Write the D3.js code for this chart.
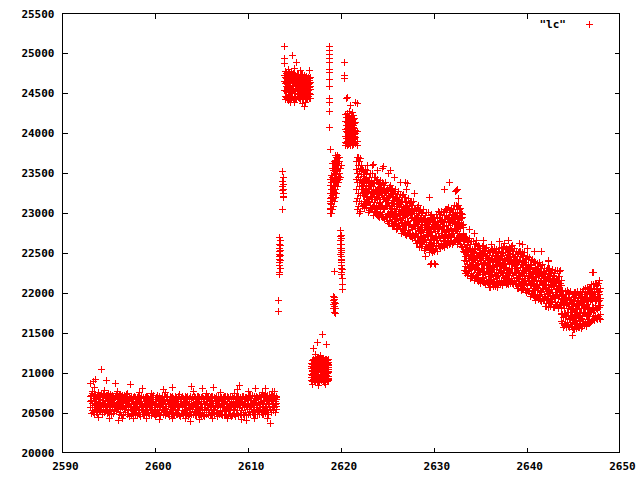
<!DOCTYPE html>
<html><head><meta charset="utf-8">
<script src="https://cdn.jsdelivr.net/npm/d3@7"></script>
<style>body{margin:0;background:#fff}svg{display:block}</style>
</head><body><svg id="c" width="640" height="480"></svg>
<script>
const xTicks = [2590, 2600, 2610, 2620, 2630, 2640, 2650];
const yTicks = [20000, 20500, 21000, 21500, 22000, 22500, 23000, 23500, 24000, 24500, 25000, 25500];
const seriesName = '"lc"';

// rows: [time, flux, flux, ...]
const baseline = [
[2593.0,20700,20560,20640],[2593.1,20490,20650,20720],[2593.2,20610,20740,20530],[2593.3,20680,20890,20500],
[2593.4,20560,20700,20620],[2593.5,20730,20480,20590],[2593.6,20640,20540,20710],[2593.7,20500,20680,20600],
[2593.8,20720,20590,20470],[2593.9,20620,20750,20550],[2594.0,20530,20660,20700],[2594.1,20690,20510,20620],
[2594.2,20580,21040,20740],[2594.3,20480,20630,20700],[2594.4,20650,20560,20730],[2594.5,20710,20600,20500],
[2594.6,20540,20680,20620],[2594.7,20900,20570,20720],[2594.8,20640,20490,20690],[2594.9,20590,20710,20530],
[2595.0,20740,20620,20500],[2595.1,20510,20660,20600],[2595.2,20680,20540,20730],[2595.3,20600,20700,20480],
[2595.4,20720,20570,20650],[2595.5,20490,20630,20700],[2595.6,20660,20520,20610],[2595.7,20860,20700,20560],
[2595.8,20580,20720,20510],[2595.9,20690,20600,20740],[2596.0,20540,20670,20590],[2596.1,20710,20480,20640],
[2596.2,20620,20730,20550],[2596.3,20500,20650,20690],[2596.4,20700,20580,20460],[2596.5,20560,20710,20630],
[2596.6,20470,20620,20690],[2596.7,20650,20540,20720],[2596.8,20590,20700,20500],[2596.9,20730,20560,20640],
[2597.0,20480,20620,20690],[2597.1,20650,20520,20580],[2597.2,20700,20450,20610],[2597.3,20560,20850,20680],
[2597.4,20460,20600,20700],[2597.5,20640,20540,20490],[2597.6,20690,20580,20620],[2597.7,20510,20660,20470],
[2597.8,20600,20700,20550],[2597.9,20470,20630,20690],[2598.0,20580,20500,20670],[2598.1,20690,20560,20460],
[2598.2,20520,20640,20700],[2598.3,20620,20480,20570],[2598.4,20450,20680,20600],[2598.5,20700,20540,20620],
[2598.6,20800,20590,20500],[2598.7,20560,20690,20480],[2598.8,20640,20470,20600],[2598.9,20510,20620,20690],
[2599.0,20700,20580,20460],[2599.1,20480,20650,20560],[2599.2,20600,20520,20700],[2599.3,20680,20610,20490],
[2599.4,20460,20560,20640],[2599.5,20620,20700,20530],[2599.6,20540,20460,20660],[2599.7,20690,20590,20500],
[2599.8,20500,20640,20710],[2599.9,20600,20480,20560],[2600.0,20670,20540,20450],[2600.1,20470,20690,20600],
[2600.2,20580,20710,20520],[2600.3,20650,20490,20620],[2600.4,20520,20600,20700],[2600.5,20690,20560,20470],
[2600.6,20460,20640,20580],[2600.7,20610,20500,20680],[2600.8,20700,20620,20540],[2600.9,20480,20560,20660],
[2601.0,20640,20700,20500],[2601.1,20550,20460,20620],[2601.2,20690,20580,20510],[2601.3,20500,20640,20700],
[2601.4,20620,20480,20580],[2601.5,20450,20660,20600],[2601.6,20700,20540,20630],[2601.7,20580,20690,20470],
[2601.8,20820,20520,20640],[2601.9,20600,20700,20490],[2602.0,20480,20570,20680],[2602.1,20650,20460,20590],
[2602.2,20540,20700,20620],[2602.3,20690,20600,20480],[2602.4,20470,20640,20560],[2602.5,20610,20520,20700],
[2602.6,20700,20580,20460],[2602.7,20450,20660,20600],[2602.8,20620,20490,20690],[2602.9,20560,20700,20520],
[2603.0,20680,20470,20600],[2603.1,20500,20630,20560],[2603.2,20700,20540,20660],[2603.3,20590,20460,20640],
[2603.4,20480,20690,20570],[2603.5,20640,20520,20700],[2603.6,20560,20600,20450],[2603.7,20470,20680,20620],
[2603.8,20700,20550,20500],[2603.9,20830,20610,20470],[2604.0,20540,20690,20590],[2604.1,20660,20480,20620],
[2604.2,20500,20600,20700],[2604.3,20690,20560,20460],[2604.4,20460,20640,20580],[2604.5,20610,20700,20510],
[2604.6,20700,20490,20630],[2604.7,20550,20660,20470],[2604.8,20640,20520,20690],[2604.9,20480,20600,20560],
[2605.0,20690,20460,20620],[2605.1,20570,20700,20500],[2605.2,20460,20640,20680],[2605.3,20620,20540,20450],
[2605.4,20700,20600,20560],[2605.5,20520,20470,20660],[2605.6,20640,20700,20590],[2605.7,20480,20560,20690],
[2605.8,20660,20500,20620],[2605.9,20590,20690,20460],[2606.0,20700,20540,20610],[2606.1,20460,20650,20580],
[2606.2,20620,20480,20700],[2606.3,20810,20590,20520],[2606.4,20540,20690,20470],[2606.5,20680,20560,20640],
[2606.6,20500,20620,20700],[2606.7,20610,20450,20560],[2606.8,20700,20590,20490],[2606.9,20470,20660,20620],
[2607.0,20580,20700,20510],[2607.1,20650,20480,20690],[2607.2,20520,20600,20460],[2607.3,20690,20560,20640],
[2607.4,20460,20700,20580],[2607.5,20620,20510,20680],[2607.6,20700,20640,20470],[2607.7,20540,20460,20600],
[2607.8,20660,20580,20700],[2607.9,20480,20690,20550],[2608.0,20610,20520,20660],[2608.1,20700,20470,20590],
[2608.2,20560,20640,20450],[2608.3,20460,20600,20700],[2608.4,20680,20540,20620],[2608.5,20590,20700,20480],
[2608.6,20450,20620,20560],[2608.7,20640,20490,20690],[2608.8,20700,20580,20520],[2608.9,20520,20660,20610],
[2609.0,20610,20460,20700],[2609.1,20840,20560,20640],[2609.2,20480,20690,20590],[2609.3,20660,20520,20460],
[2609.4,20570,20700,20620],[2609.5,20700,20600,20480],[2609.6,20460,20640,20560],[2609.7,20620,20500,20690],
[2609.8,20690,20580,20460],[2609.9,20540,20660,20610],[2610.0,20620,20470,20700],[2610.1,20710,20560,20500],
[2610.2,20480,20650,20620],[2610.3,20590,20710,20470],[2610.4,20680,20540,20600],[2610.5,20500,20620,20710],
[2610.6,20640,20480,20560],[2610.7,20700,20600,20520],[2610.8,20800,20650,20480],[2610.9,20540,20700,20610],
[2611.0,20470,20590,20690],[2611.1,20660,20520,20630],[2611.2,20560,20710,20480],[2611.3,20690,20600,20540],
[2611.4,20500,20640,20700],[2611.5,20620,20470,20580],[2611.6,20710,20560,20650],[2611.7,20480,20690,20600],
[2611.8,20640,20520,20710],[2611.9,20580,20700,20490],[2612.0,20700,20610,20540],[2612.1,20520,20660,20720],
[2612.2,20640,20480,20600],[2612.3,20710,20580,20650],[2612.4,20360,20540,20690],[2612.5,20660,20720,20500],
[2612.6,20580,20760,20640],[2612.7,20700,20520,20620],[2612.8,20560,20680,20720],[2612.9,20640,20600,20500],
[2613.0,20700,20580,20660],[2613.1,20620,20540,20690]
];

const edgeScatter = [
[2593.0,20870],[2593.6,20920],[2593.2,20770],[2593.9,20440],[2594.5,20780],[2595.1,20430],[2595.9,20760],
[2596.5,20420],[2597.0,20740],[2597.6,20430],[2598.3,20750],[2599.0,20420],[2599.6,20740],[2600.4,20410],
[2601.1,20750],[2601.9,20430],[2602.6,20730],[2603.3,20420],[2604.1,20760],[2604.8,20410],[2605.5,20740],
[2606.2,20430],[2607.0,20750],[2607.8,20420],[2608.5,20740],[2609.3,20410],[2610.0,20760],[2610.7,20430],
[2611.5,20750],[2612.1,20420],[2612.8,20770],[2593.5,20820],[2600.9,20790],[2605.1,20800],[2608.9,20790],
[2611.9,20800],[2596.0,20400],[2603.8,20390],[2609.8,20400],
[2614.3,24800],[2615.0,24810],[2615.6,24790],[2616.2,24380],[2614.6,24380],[2615.9,24370],[2616.6,24780],
[2617.2,21230],[2617.8,21220],[2618.3,20850],[2616.9,20850],[2617.6,20840]
];

const riseSpikes = [
[2613.25,21765],[2613.3,21900],[2613.35,22250],
[2613.4,22230,22690,22450,22560,22380,22520,22610,22340,22480,22420],
[2613.5,22590,22470,22650,22310,22530,22400],
[2613.75,23050,23400,23280,23520,23330],
[2613.8,23360,23210,23300,23250,23440,23190]
];

const plateau = [
[2613.9,25090,24940,24870,24650,24540,24720],[2614.0,24460,24700,24620,24540,24770,24420],
[2614.1,24680,24590,24750,24450,24640,24520],[2614.2,24620,24740,24430,24660,24570,24700],
[2614.3,24700,24480,24550,24770,24630,24410],[2614.4,24580,24690,24440,24740,24510,24650],
[2614.5,24650,24520,24710,24430,24760,24600],[2614.6,24600,24730,24460,24640,24540,24700],
[2614.7,24720,24420,24660,24560,24750,24500],[2614.8,24980,24640,24450,24700,24580,24740],
[2614.9,24530,24670,24420,24620,24750,24590],[2615.0,24390,24630,24520,24690,24460,24730],
[2615.1,24660,24440,24720,24580,24650,24500],[2615.2,24880,24560,24650,24420,24700,24610],
[2615.3,24620,24740,24480,24640,24540,24690],[2615.4,24450,24680,24610,24740,24520,24580],
[2615.5,24640,24550,24430,24700,24620,24480],[2615.6,24720,24500,24630,24420,24590,24680],
[2615.7,24560,24650,24460,24730,24590,24510],[2615.8,24620,24430,24690,24580,24510,24740],
[2615.9,24480,24640,24570,24710,24440,24620],[2616.0,24680,24530,24610,24430,24660,24560],
[2616.1,24330,24600,24490,24680,24540,24720],[2616.2,24590,24700,24450,24620,24530,24660],
[2616.3,24640,24480,24600,24420,24710,24560],[2616.4,24520,24660,24580,24440,24690,24610],
[2616.5,24610,24460,24700,24530,24590,24640],[2616.6,24570,24680,24440,24620,24500,24660],
[2616.7,24630,24480,24590,24700,24430,24550]
];

const dip = [
[2616.8,21050,20900,21120,20980,21080,20940],[2616.9,20960,21100,21030,20890,21150,21010],
[2617.0,21300,21060,20920,21110,21170,20990],[2617.1,21090,20900,21040,21150,20970,21120],
[2617.2,21010,21170,20930,21070,20880,21130],[2617.3,21140,20960,21080,20900,21050,21180],
[2617.4,20920,21090,21020,21160,20950,21060],[2617.5,21380,21040,20890,21110,21000,21170],
[2617.6,21030,20910,21130,20970,21180,21060],[2617.7,21080,20940,21050,21170,20890,21120],
[2617.8,21000,21150,20920,21060,21100,20960],[2617.9,21120,20980,21070,20900,21160,21030],
[2618.0,21480,21050,20930,21140,21010,21180],[2618.1,20900,21090,21030,21170,20960,21110],
[2618.2,21060,20940,21130,21000,20880,21150],[2618.3,20980,21140,20910,21080,21050,21170],
[2618.4,21350,21020,21100,20920,21160,20970],[2618.5,21040,20890,21120,20990,21070,21150],
[2618.6,20950,21100,21020,21170,20910,21060],[2618.7,21090,21000,20930,21130,21040,20900]
];

const flareSpikes = [
[2618.75,25090,25040,24990,24940,24880,24800,24760,24670,24580,24430,24380,24270,24070],
[2618.85,23800,23050,23150],
[2618.9,23000,23120,23250,23060,23340,23180,23420],[2619.0,23050,23200,23380,23110,23290,23470,23000],
[2619.1,23150,23300,23450,23220,23560,23040,23620],[2619.2,23270,23400,23530,23180,23620,23350,23080],
[2619.3,23330,23480,23650,23260,23560,23420,23140],[2619.4,23400,23560,23720,23300,23500,23640,23200],
[2619.5,23450,23600,23700,23380,23540,23250],[2619.6,23520,23680,23410,23600,23330,23720],
[2619.7,23560,23700,23460,23620,23380],[2619.8,23500,23640,23420,23700],
[2619.9,23560,23450],[2620.0,23600],
[2619.9,22780,22650,22700,22560,22610,22480],[2620.0,22720,22530,22420,22600,22380,22500,22310],
[2620.1,22450,22340,22260,22230,22550,22400,22680],[2620.2,22100,22040,22290,22180],
[2619.25,22265],
[2619.2,21960,21900,21850,21800],[2619.3,21920,21880,21760,21830,21940],[2619.4,21870,21740,21810],
[2620.4,24880,24720,24680]
];

const peak = [
[2620.5,23880,24050,23960,24150,23840,24230],[2620.6,24100,23930,24200,24020,24440,23870],
[2620.7,24060,23900,24250,23850,24010,24140,24450],[2620.8,23970,24210,24080,23920,24150,23860],
[2620.9,24180,24030,23870,24110,24270,23950],[2621.0,24000,24160,23900,24080,24350,23840],
[2621.1,24130,23880,24040,24220,23960,24090],[2621.2,24050,23940,24180,23850,24020,24260],
[2621.3,23920,24100,24000,24170,23860,24060],[2621.4,24070,23930,24140,23990,24220,23880],
[2621.5,24010,24120,23890,24060,23960,24180],[2621.6,23950,24040,24130,23870,24380,24000],
[2621.75,24370,23900,24020,23840]
];

const decay = [
[2621.7,23650,23420,23300,23550,23150],[2621.8,23700,23380,23180,23500,23050],
[2621.9,23600,23250,23450,23080,23700],[2622.0,23520,23330,23150,23640,22990],
[2622.1,23410,23220,23560,23020,23680],[2622.2,23300,23480,23120,23380,23600],
[2622.3,23250,23400,23080,23350,23550],[2622.4,23330,23100,23460,23220,23530],
[2622.5,23150,23390,23270,23510,23060],[2622.6,23420,23240,23540,23120,23310],
[2622.7,23070,23480,23200,23350,23440],[2622.8,23500,23170,23370,23280,23090],
[2622.9,23250,23530,23130,23410,23210,23600],[2623.0,23410,23010,23270,23140,23340],
[2623.1,23150,23300,23450,23030,23380],[2623.2,23330,23090,23210,23490,23060],
[2623.3,23050,23390,23350,23190,23270],[2623.4,23370,23190,23490,23070,23260,23600],
[2623.5,23370,22970,23230,23100,23300,23610],[2623.6,23240,23010,23370,23130,23440],
[2623.7,23290,23050,23170,23450,23020],[2623.8,23410,23080,23280,23190,23000],
[2623.9,23060,23300,23180,23420,22970,23530],[2624.0,23080,23230,23380,22960,23310],
[2624.1,22950,23360,23080,23230,23320],[2624.2,22980,23320,23280,23120,23200],
[2624.3,23130,23410,23010,23290,23090],[2624.4,22960,23350,23090,23240,23310],
[2624.5,23220,22980,23100,23380,22950,23560],[2624.6,23170,22940,23300,23060,23370,23580],
[2624.7,23040,23190,23340,22920,23270],[2624.8,23260,23080,23380,22960,23150],
[2624.9,22940,23280,23240,23080,23160],[2625.0,23310,22980,23180,23090,22900],
[2625.1,23270,22870,23130,23000,23200,23500],[2625.2,22960,23200,23080,23320,22870],
[2625.3,23060,23340,22940,23220,23020,23530],[2625.4,23100,22870,23230,22990,23300],
[2625.5,22920,23160,23040,23280,22830],[2625.6,23190,23010,23310,22890,23080],
[2625.7,22840,23250,22970,23120,23210],[2625.8,23270,22940,23140,23050,22860,23450],
[2625.9,23020,23300,22900,23180,22980],[2626.0,23190,22790,23050,22920,23120],
[2626.1,22930,23080,23230,22810,23160],[2626.2,23110,22870,22990,23270,22840],
[2626.3,22830,23170,23130,22970,23050],[2626.4,23110,22930,23230,22810,23000,23380],
[2626.5,23150,22750,23010,22880,23080],[2626.6,23020,22790,23150,22910,23220],
[2626.7,23070,22830,22950,23230,22800],[2626.8,23190,22860,23060,22970,22780],
[2626.9,22840,23080,22960,23200,22750],[2627.0,22850,23000,23150,22730,23080,23380],
[2627.1,22720,23130,22850,23000,23090,23300],[2627.2,22750,23090,23050,22890,22970,23370],
[2627.3,22900,23180,22780,23060,22860],[2627.4,22730,23120,22860,23010,23080],
[2627.5,22980,22740,22860,23140,22710],[2627.6,22930,22700,23060,22820,23130],
[2627.7,22800,22950,23100,22680,23030],[2627.8,23020,22840,23140,22720,22910],
[2627.9,22700,23040,23000,22840,22920,23250],[2628.0,23060,22730,22930,22840,22650],
[2628.1,23020,22620,22880,22750,22950],[2628.2,22710,22950,22830,23070,22620],
[2628.3,22810,23090,22690,22970,22770],[2628.4,22890,22660,23020,22780,23090],
[2628.5,22660,22900,22780,23020,22570],[2628.6,22930,22750,23050,22630,22820],
[2628.7,22580,22990,22710,22860,22950],[2628.8,23010,22680,22880,22790,22600],
[2628.9,22760,23040,22640,22920,22720],[2629.0,22930,22530,22790,22660,22860],
[2629.1,22670,22820,22970,22550,22900,22450],[2629.2,22850,22610,22730,23010,22580],
[2629.3,22570,22910,22870,22710,22790],[2629.4,22890,22710,23010,22590,22780],
[2629.5,22900,22500,22760,22630,22830,23200],[2629.6,22770,22540,22900,22660,22970,22350],
[2629.7,22820,22580,22700,22980,22550,22370],[2629.8,22940,22610,22810,22720,22530],
[2629.9,22590,22830,22710,22950,22500],[2630.0,22650,22800,22950,22530,22880],
[2630.1,22520,22930,22650,22800,22890,22370],[2630.2,22550,22890,22850,22690,22770,22350],
[2630.3,22700,22980,22580,22860,22660],[2630.4,22520,22930,22650,22800,22890],
[2630.5,22860,22620,22740,23020,22590],[2630.6,22810,22580,22940,22700,23010],
[2630.7,22680,22830,22980,22560,22910],[2630.8,22900,22720,23020,22600,22790],
[2630.9,22580,22920,22880,22720,22800],[2631.0,23010,22680,22880,22790,22600],
[2631.1,22970,22570,22830,22700,22900,23300],[2631.2,22660,22900,22780,23020,22570],
[2631.3,22760,23040,22640,22920,22720],[2631.4,22840,22610,22970,22730,23040],
[2631.5,22680,22920,22800,23040,22590],[2631.6,22950,22770,23070,22650,22840],
[2631.7,22600,23010,22730,22880,22970,23380],[2631.8,23030,22700,22900,22810,22620],
[2631.9,22780,23060,22660,22940,22740],[2632.0,23010,22610,22870,22740,22940],
[2632.1,22750,22900,23050,22630,22980],[2632.2,22930,22690,22810,23090,22660],
[2632.3,22650,22990,22950,22790,22870,23270],[2632.4,22970,22790,23090,22670,22860,23280],
[2632.5,23010,22610,22870,22740,22940],[2632.6,22880,22650,23010,22770,23080,23290],
[2632.7,22930,22690,22810,23090,22660,23180],[2632.8,23050,22720,22920,22830,22640],
[2632.9,22700,22940,22820,23060,22610],[2633.0,22700,22850,23000,22580,22930],
[2633.1,22570,22980,22700,22850,22940],[2633.2,22520,22860,22820,22660,22740]
];

const tail = [
[2633.3,22510,22280,22640,22400,22710],[2633.4,22330,22570,22450,22690,22240],
[2633.5,22570,22390,22690,22270,22460],[2633.6,22220,22630,22350,22500,22590],
[2633.7,22650,22320,22520,22430,22240],[2633.8,22400,22680,22280,22560,22360,22800],
[2633.9,22610,22210,22470,22340,22540],[2634.0,22300,22450,22600,22180,22530],
[2634.1,22480,22240,22360,22640,22210],[2634.2,22200,22540,22500,22340,22420],
[2634.3,22520,22340,22640,22220,22410],[2634.4,22560,22160,22420,22290,22490,22750],
[2634.5,22410,22180,22540,22300,22610],[2634.6,22460,22220,22340,22620,22190,22660],
[2634.7,22580,22250,22450,22360,22170],[2634.8,22230,22470,22350,22590,22140],
[2634.9,22280,22430,22580,22160,22510],[2635.0,22120,22530,22250,22400,22490],
[2635.1,22150,22490,22450,22290,22370],[2635.2,22300,22580,22180,22460,22260],
[2635.3,22130,22520,22260,22410,22480],[2635.4,22430,22190,22310,22590,22160,22650],
[2635.5,22360,22130,22490,22250,22560],[2635.6,22230,22380,22530,22110,22460],
[2635.7,22450,22270,22570,22150,22340],[2635.8,22130,22470,22430,22270,22350],
[2635.9,22530,22200,22400,22310,22120],[2636.0,22470,22070,22330,22200,22400],
[2636.1,22160,22400,22280,22520,22070],[2636.2,22260,22540,22140,22420,22220,22600],
[2636.3,22340,22110,22470,22230,22540],[2636.4,22170,22390,22290,22510,22080],
[2636.5,22430,22250,22550,22130,22320],[2636.6,22080,22490,22210,22360,22450],
[2636.7,22510,22180,22380,22290,22100],[2636.8,22260,22540,22140,22420,22220],
[2636.9,22470,22070,22330,22200,22400],[2637.0,22220,22370,22520,22100,22450],
[2637.1,22400,22160,22280,22560,22130,22640],[2637.2,22120,22460,22420,22260,22340],
[2637.3,22450,22270,22570,22150,22340],[2637.4,22490,22090,22350,22220,22420],
[2637.5,22370,22140,22500,22260,22570],[2637.6,22420,22180,22300,22580,22150,22620],
[2637.7,22540,22210,22410,22320,22130],[2637.8,22190,22430,22310,22550,22100],
[2637.9,22240,22390,22540,22120,22470],[2638.0,22110,22520,22240,22390,22480,22660],
[2638.1,22140,22480,22440,22280,22360],[2638.2,22290,22570,22170,22450,22250],
[2638.3,22120,22530,22250,22400,22490],[2638.4,22420,22180,22300,22580,22150],
[2638.5,22350,22120,22480,22240,22550,22590],[2638.6,22220,22370,22520,22100,22450],
[2638.7,22440,22260,22560,22140,22330],[2638.8,22120,22460,22420,22260,22340],
[2638.9,22520,22190,22390,22300,22110],[2639.0,22450,22050,22310,22180,22380],
[2639.1,22140,22380,22260,22500,22050],[2639.2,22240,22520,22120,22400,22200,22620],
[2639.3,22320,22090,22450,22210,22520],[2639.4,22120,22360,22240,22480,22030],
[2639.5,22390,22210,22510,22090,22280],[2639.6,22040,22450,22170,22320,22410,22600],
[2639.7,22470,22140,22340,22250,22060],[2639.8,22220,22500,22100,22380,22180],
[2639.9,22430,22030,22290,22160,22360],[2640.0,22120,22270,22420,22000,22350],
[2640.1,22300,22060,22180,22460,22030,22560],[2640.2,22020,22360,22320,22160,22240],
[2640.3,22320,22140,22440,22020,22210],[2640.4,22360,21960,22220,22090,22290],
[2640.5,22210,21980,22340,22100,22410],[2640.6,22260,22020,22140,22420,21990],
[2640.7,22380,22050,22250,22160,21970],[2640.8,22030,22270,22150,22390,21940,22520],
[2640.9,22080,22230,22380,21960,22310],[2641.0,21910,22320,22040,22190,22280],
[2641.1,21940,22280,22240,22080,22160],[2641.2,22090,22370,21970,22250,22050],
[2641.3,21920,22330,22050,22200,22290],[2641.4,22220,21980,22100,22380,21950],
[2641.5,22140,21910,22270,22030,22340],[2641.6,22010,22160,22310,21890,22240,22520],
[2641.7,22230,22050,22350,21930,22120],[2641.8,21910,22250,22210,22050,22130],
[2641.9,22310,21980,22180,22090,21900],[2642.0,22230,21830,22090,21960,22160],
[2642.1,21920,22160,22040,22280,21830],[2642.2,22020,22300,21900,22180,21980],
[2642.3,22100,21870,22230,21990,22300,22400],[2642.4,21910,22150,22030,22270,21820,22390],
[2642.5,22180,22000,22300,21880,22070],[2642.6,21830,22240,21960,22110,22200],
[2642.7,22260,21930,22130,22040,21850],[2642.8,22010,22290,21890,22170,21970],
[2642.9,22220,21820,22080,21950,22150],[2643.0,21940,22090,22240,21820,22170],
[2643.1,22120,21880,22000,22280,21850],[2643.2,21840,22180,22140,21980,22060],
[2643.3,22160,21980,22280,21860,22050],[2643.4,22200,21800,22060,21930,22130],
[2643.5,22070,21840,22200,21960,22270],[2643.6,22120,21880,22000,22280,21850],
[2643.7,22150,21820,22020,21930,21740],[2643.8,21730,21970,21850,22090,21640],
[2643.9,21730,21880,22030,21610,21960],[2644.0,21560,21970,21690,21840,21930],
[2644.1,21590,21930,21890,21730,21810],[2644.2,21740,22020,21620,21900,21700],
[2644.3,21570,21980,21700,21850,21920],[2644.4,21870,21630,21750,22030,21600],
[2644.5,21810,21580,21940,21700,22010],[2644.6,21680,21830,21980,21560,21910],
[2644.7,21900,21720,22020,21600,21790],[2644.8,21580,21920,21880,21720,21800],
[2644.9,21980,21650,21850,21760,21570,21470],[2645.0,21940,21540,21800,21670,21870],
[2645.1,21630,21870,21750,21990,21540],[2645.2,21730,22010,21610,21890,21690],
[2645.3,21810,21580,21940,21700,22010],[2645.4,21640,21860,21760,21980,21550],
[2645.5,21900,21720,22020,21600,21790],[2645.6,21560,21970,21690,21840,21930],
[2645.7,21980,21650,21850,21760,21570],[2645.8,21740,22020,21620,21900,21700],
[2645.9,21950,21550,21810,21680,21880],[2646.0,21700,21850,22000,21580,21930],
[2646.1,21880,21640,21760,22040,21610],[2646.2,21600,21940,21900,21740,21820,21960],
[2646.3,21930,21750,22050,21630,21820],[2646.4,21980,21580,21830,21700,21910],
[2646.5,21860,21630,21990,21750,22060],[2646.6,21910,21670,21790,22070,21640,22020],
[2646.7,22040,21710,21910,21820,21630],[2646.8,21700,21940,21820,22060,21610],
[2646.9,21750,21900,22050,21630,21980],[2647.0,21640,22050,21770,21920,22010,22100],
[2647.1,21670,22010,21970,21810,21890,22250],[2647.2,21820,22100,21700,21980,21780,22260],
[2647.3,21650,22060,21780,21930,22020],[2647.4,21960,21720,21840,22120,21690],
[2647.5,21910,21680,22040,21800,22110],[2647.6,21790,21940,22090,21670,22020],
[2647.7,22000,21820,22120,21700,21890],[2647.8,21680,22020,21980,21820,21900,22150],
[2647.9,22060,21730,21930,21840,21670]
];

function toPoints(rows) {
  const out = [];
  rows.forEach(r => { for (let i = 1; i < r.length; i++) out.push([r[0], r[i]]); });
  return out;
}
const points = [baseline, edgeScatter, riseSpikes, plateau, dip, flareSpikes, peak, decay, tail].flatMap(toPoints);

const svg = d3.select('#c');
svg.append('rect').attr('width', 640).attr('height', 480).attr('fill', '#fff');

const L = 62.5, R = 619.5, T = 13.5, B = 452.5;
const x = d3.scaleLinear().domain([2590, 2650]).range([L, R]);
const y = d3.scaleLinear().domain([20000, 25500]).range([B, T]);

const font = '"DejaVu Sans Mono", "Liberation Mono", monospace';

function plusPath(px, py) {
  const cx = Math.round(px - 0.5) + 0.5, cy = Math.round(py - 0.5) + 0.5;
  return `M${cx - 3.5},${cy}h7M${cx},${cy - 3.5}v7`;
}

function styleAxis(g, hideText) {
  g.select('.domain').remove();
  g.selectAll('line').attr('stroke', '#000').attr('stroke-width', 1).attr('shape-rendering', 'crispEdges');
  g.selectAll('text').attr('fill', '#000').attr('font-family', font).attr('font-weight', 'bold').attr('font-size', 11);
  if (hideText) g.selectAll('text').remove();
}
const gL = svg.append('g').attr('transform', `translate(${L},0)`)
  .call(d3.axisLeft(y).tickValues(yTicks).tickSizeInner(-5).tickSizeOuter(0).tickPadding(8).tickFormat(d3.format('d')));
styleAxis(gL, false);
const gR = svg.append('g').attr('transform', `translate(${R},0)`)
  .call(d3.axisRight(y).tickValues(yTicks.slice(1, -1)).tickSizeInner(-5).tickSizeOuter(0));
styleAxis(gR, true);
const gB = svg.append('g').attr('transform', `translate(0,${B})`)
  .call(d3.axisBottom(x).tickValues(xTicks).tickSizeInner(-5).tickSizeOuter(0).tickPadding(10).tickFormat(d3.format('d')));
styleAxis(gB, false);
gB.selectAll('text').attr('dx', 2.5);
const gT = svg.append('g').attr('transform', `translate(0,${T})`)
  .call(d3.axisTop(x).tickValues(xTicks.slice(1, -1)).tickSizeInner(-5).tickSizeOuter(0));
styleAxis(gT, true);
gL.selectAll('.tick').filter(d => d === 20000 || d === 25500).select('line').remove();
gB.selectAll('.tick').filter(d => d === 2590 || d === 2650).select('line').remove();

svg.append('g').attr('fill', 'none').attr('stroke', '#ff0000').attr('stroke-width', 1).attr('shape-rendering', 'crispEdges')
  .selectAll('path').data(points).join('path').attr('d', d => plusPath(x(d[0]), y(d[1])));

svg.append('rect').attr('x', L).attr('y', T).attr('width', R - L).attr('height', B - T)
  .attr('fill', 'none').attr('stroke', '#000').attr('stroke-width', 1).attr('shape-rendering', 'crispEdges');

const leg = svg.append('g');
leg.append('text').attr('x', 566).attr('y', 24).attr('dy', '0.32em').attr('text-anchor', 'end')
  .attr('font-family', font).attr('font-weight', 'bold').attr('font-size', 11).attr('fill', '#000').text(seriesName);
leg.append('path').attr('d', plusPath(589.5, 24.5)).attr('fill', 'none').attr('stroke', '#ff0000')
  .attr('stroke-width', 1).attr('shape-rendering', 'crispEdges');
</script></body></html>
